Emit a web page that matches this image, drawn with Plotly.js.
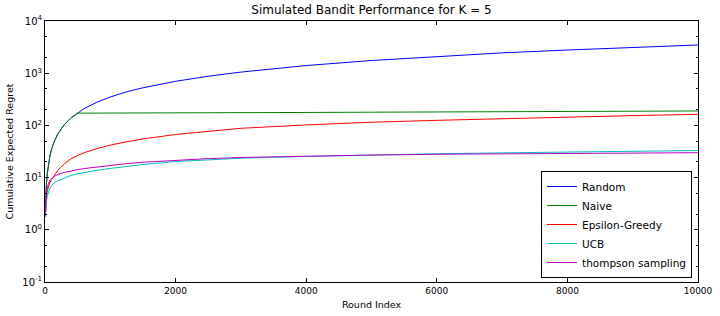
<!DOCTYPE html>
<html>
<head>
<meta charset="utf-8">
<script src="https://cdn.plot.ly/plotly-3.0.1.min.js"></script>
<style>html,body{margin:0;padding:0;background:#fff;}#chart{width:720px;height:316px;}</style>
</head>
<body>
<div id="chart"></div>
<script>
const rounds = [5, 10, 20, 35, 50, 75, 100, 150, 200, 300, 400, 500, 600, 800, 1000, 1250, 1500, 2000, 2500, 3000, 4000, 5000, 6000, 7000, 8000, 9000, 10000];
const randomRegret = [1.8, 3.5, 7, 12, 17.5, 26, 35, 52, 70, 105, 140, 175, 210, 280, 350, 440, 525, 700, 875, 1050, 1400, 1750, 2100, 2450, 2780, 3130, 3470];
const naiveRegret = [1.8, 3.5, 7, 12, 17.5, 26, 35, 52, 70, 105, 140, 172, 172, 172, 172, 172, 173, 174, 175, 176, 177, 179, 181, 183, 185, 187, 189];
const epsilonRegret = [1.8, 2.8, 4.2, 5.6, 6.6, 8, 9.2, 11.5, 14, 18.5, 23, 26.5, 30, 36, 42, 48.5, 55, 67, 77, 88, 102, 115, 125, 135, 145, 154, 163];
const ucbRegret = [1.8, 2.5, 3.4, 4.4, 5.2, 6.3, 7.1, 8.1, 8.8, 10, 11, 11.8, 12.5, 13.8, 15, 16.5, 17.8, 20.3, 22, 23.5, 25.5, 27.2, 28.6, 29.8, 31, 32.1, 33];
const thompsonRegret = [2, 3, 4.5, 6.2, 7.5, 8.7, 9.6, 10.7, 11.5, 12.6, 13.5, 14.2, 14.9, 16, 17.2, 18.5, 19.7, 21.6, 23.1, 24.3, 25.9, 27, 28, 28.7, 29.3, 29.7, 30];

const seriesNames = ["Random", "Naive", "Epsilon-Greedy", "UCB", "thompson sampling"];
const seriesColors = ["#0000ff", "#008000", "#ff0000", "#00bfbf", "#bf00bf"];
const seriesValues = [randomRegret, naiveRegret, epsilonRegret, ucbRegret, thompsonRegret];

const xTickVals = [0, 2000, 4000, 6000, 8000, 10000];
const xTickText = ["0", "2000", "4000", "6000", "8000", "10000"];
const yTickVals = [0.1, 1, 10, 100, 1000, 10000];
const yTickText = ["10<sup>-1</sup>", "10<sup>0</sup>", "10<sup>1</sup>", "10<sup>2</sup>", "10<sup>3</sup>", "10<sup>4</sup>"];

const traces = seriesNames.map((name, i) => ({
  x: rounds,
  y: seriesValues[i],
  type: "scatter",
  mode: "lines",
  name: name,
  line: {color: seriesColors[i], width: 1}
}));

const font = "DejaVu Sans, sans-serif";
const layout = {
  width: 720,
  height: 316,
  margin: {l: 45, r: 22, t: 21, b: 34, pad: 0},
  paper_bgcolor: "#ffffff",
  plot_bgcolor: "#ffffff",
  font: {family: font, color: "#000000", size: 9},
  showlegend: true,
  title: {
    text: "Simulated Bandit Performance for K = 5",
    font: {family: font, size: 12, color: "#000000"},
    x: 0.516, xref: "container", xanchor: "center",
    y: 0.968, yref: "container", yanchor: "middle"
  },
  xaxis: {
    type: "linear",
    range: [0, 10000],
    tickmode: "array",
    tickvals: xTickVals,
    ticktext: xTickText,
    ticks: "inside",
    ticklen: 4,
    tickwidth: 1,
    tickcolor: "#000000",
    mirror: "allticks",
    showline: true,
    linecolor: "#000000",
    linewidth: 1,
    showgrid: false,
    zeroline: false,
    tickfont: {family: font, size: 9, color: "#000000"},
    title: {text: "Round Index", font: {family: font, size: 9.5, color: "#000000"}, standoff: 6},
    automargin: false
  },
  yaxis: {
    type: "log",
    range: [-1, 4],
    tickmode: "array",
    tickvals: yTickVals,
    ticktext: yTickText,
    ticks: "inside",
    ticklen: 4,
    tickwidth: 1,
    tickcolor: "#000000",
    mirror: "allticks",
    showline: true,
    linecolor: "#000000",
    linewidth: 1,
    showgrid: false,
    zeroline: false,
    tickfont: {family: font, size: 10, color: "#000000"},
    title: {text: "Cumulative Expected Regret", font: {family: font, size: 9.5, color: "#000000"}, standoff: 6},
    minor: {ticks: "inside", ticklen: 2, tickcolor: "#000000", showgrid: false},
    automargin: false
  },
  legend: {
    x: 0.7596, y: 0.0153, xanchor: "left", yanchor: "bottom",
    bordercolor: "#000000", borderwidth: 1, bgcolor: "#ffffff",
    font: {family: font, size: 10.5, color: "#000000"},
    tracegroupgap: 0
  }
};

Plotly.newPlot("chart", traces, layout, {staticPlot: true, displayModeBar: false});
</script>
</body>
</html>
